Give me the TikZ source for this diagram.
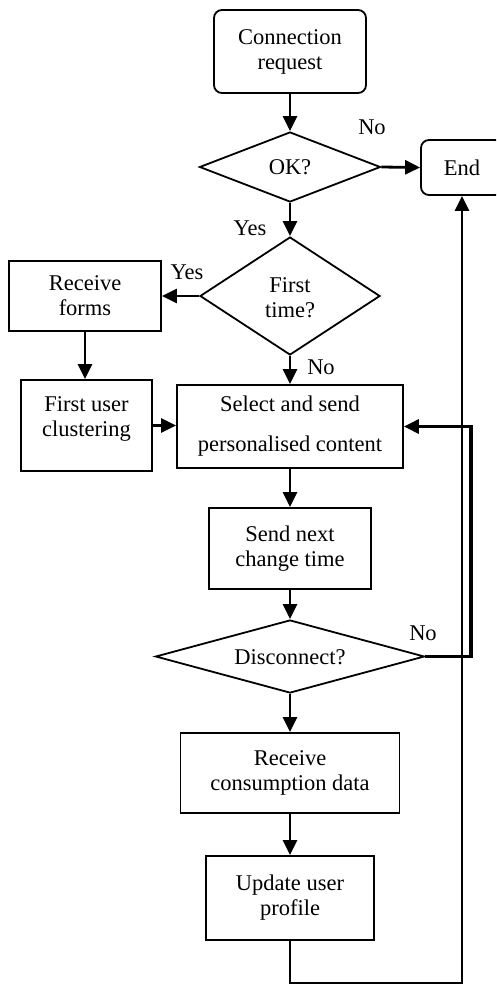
\documentclass[tikz,border=0pt]{standalone}
\usepackage{fontspec}
\setmainfont{Liberation Serif}
\usetikzlibrary{arrows.meta,shapes.geometric}
\begin{document}
\begin{tikzpicture}[x=1pt,y=-1pt,
  every node/.style={font=\fontsize{22.5}{25}\selectfont},
  box/.style={draw, line width=1.8pt, inner sep=0pt, align=center},
  term/.style={box, rounded corners=8pt},
  decision/.style={draw, diamond, line width=1.8pt, inner sep=0pt},
  txt/.style={inner sep=0pt, align=center},
  flow/.style={line width=2.8pt, -{Triangle[length=15pt,width=14pt]}},
  back/.style={line width=2.4pt, -{Triangle[length=15pt,width=14pt]}},
  lbl/.style={inner sep=0pt}]
\fill[white] (0,0) rectangle (496,986);
\useasboundingbox (0,0) rectangle (496,986);
\clip (0,0) rectangle (496,986);

% terminals
\node[term, minimum width=152pt, minimum height=83pt] (conn) at (290,51.5) {Connection\\request};
\node[term, minimum width=82pt, minimum height=55pt] (endn) at (462,167.5) {End};

% decisions
\node[decision, minimum width=181pt, minimum height=70pt] (ok) at (290,167) {};
\node[txt] (okt) at (290,167) {OK?};
\node[decision, minimum width=180pt, minimum height=118pt] (first) at (290,296) {};
\node[txt] (firstt) at (290,298) {First\\time?};
\node[decision, minimum width=269pt, minimum height=73pt] (disc) at (290,656.5) {};
\node[txt] (disct) at (290,657) {Disconnect?};

% process boxes
\node[box, minimum width=152pt, minimum height=70pt] (recv) at (85,296) {Receive\\forms};
\node[box, minimum width=131pt, minimum height=91pt] (clus) at (86.5,425.5) {};
\node[txt] (clust) at (86.5,418.5) {First user\\clustering};
\node[box, minimum width=226pt, minimum height=83pt] (sel) at (290,426.5) {Select and send\\[15pt]personalised content};
\node[box, minimum width=162pt, minimum height=81pt] (next) at (290,548.5) {Send next\\change time};
\node[box, minimum width=219pt, minimum height=80pt] (cons) at (290,773) {Receive\\consumption data};
\node[box, minimum width=168pt, minimum height=84pt] (upd) at (290,898) {Update user\\profile};

% branch labels
\node[lbl] (no1) at (372,127) {No};
\node[lbl] (yes1) at (250,228) {Yes};
\node[lbl] (yes2) at (187,272) {Yes};
\node[lbl] (no2) at (321,367) {No};
\node[lbl] (no3) at (423,633) {No};

% routing points for the return lines
\coordinate (loopx) at (471,0);
\coordinate (boty) at (0,983);

% main flow
\draw[flow] (conn.south) -- (ok.north);
\draw[flow] (ok.east) -- (endn.west);
\draw[flow] (ok.south) -- (first.north);
\draw[flow] (first.west) -- (recv.east);
\draw[flow] (recv.south) -- (recv.south |- clus.north);
\draw[flow] (clus.east) -- (clus.east -| sel.west);
\draw[flow] (first.south) -- (sel.north);
\draw[flow] (sel.south) -- (next.north);
\draw[flow] (next.south) -- (disc.north);
\draw[flow] (disc.south) -- (cons.north);
\draw[flow] (cons.south) -- (upd.north);

% loops back
\draw[line width=3.2pt, -{Triangle[length=15pt,width=14pt]}]
  (disc.east) -- (disc.east -| loopx) |- (sel.east);
\draw[back] (upd.south) -- (upd.south |- boty) -| (endn.south);
\end{tikzpicture}
\end{document}
